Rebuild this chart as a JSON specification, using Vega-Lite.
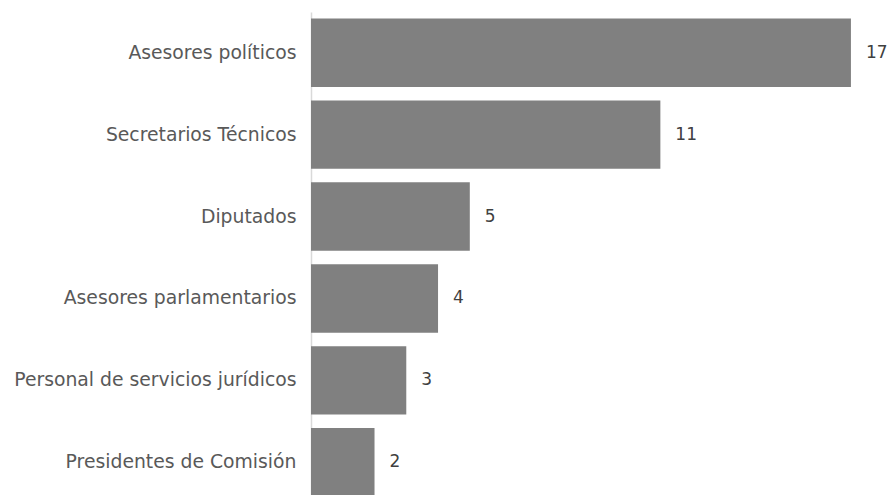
{
  "$schema": "https://vega.github.io/schema/vega-lite/v6.json",
  "autosize": "none",
  "width": 579,
  "height": 491,
  "padding": {"left": 311, "top": 12, "right": 0, "bottom": 0},
  "background": "white",
  "data": {"values": [
    {"categoria": "Asesores políticos", "valor": 17},
    {"categoria": "Secretarios Técnicos", "valor": 11},
    {"categoria": "Diputados", "valor": 5},
    {"categoria": "Asesores parlamentarios", "valor": 4},
    {"categoria": "Personal de servicios jurídicos", "valor": 3},
    {"categoria": "Presidentes de Comisión", "valor": 2}
  ]},
  "config": {"view": {"stroke": null}},
  "encoding": {
    "y": {"field": "categoria", "type": "nominal", "sort": null,
      "scale": {"paddingInner": 0.165, "paddingOuter": 0.079},
      "axis": {"title": null, "domainColor": "#d9d9d9", "domainWidth": 1.5, "ticks": false,
        "labelFont": "DejaVu Sans", "labelFontSize": 18.8, "labelColor": "#595959", "labelPadding": 15, "labelLimit": 400}},
    "x": {"field": "valor", "type": "quantitative",
      "scale": {"domain": [0, 18.23], "nice": false},
      "axis": null}
  },
  "layer": [
    {"mark": {"type": "bar", "color": "#808080"}},
    {"mark": {"type": "text", "align": "left", "dx": 15, "font": "DejaVu Sans", "fontSize": 17, "color": "#404040"},
     "encoding": {"text": {"field": "valor"}}}
  ]
}
